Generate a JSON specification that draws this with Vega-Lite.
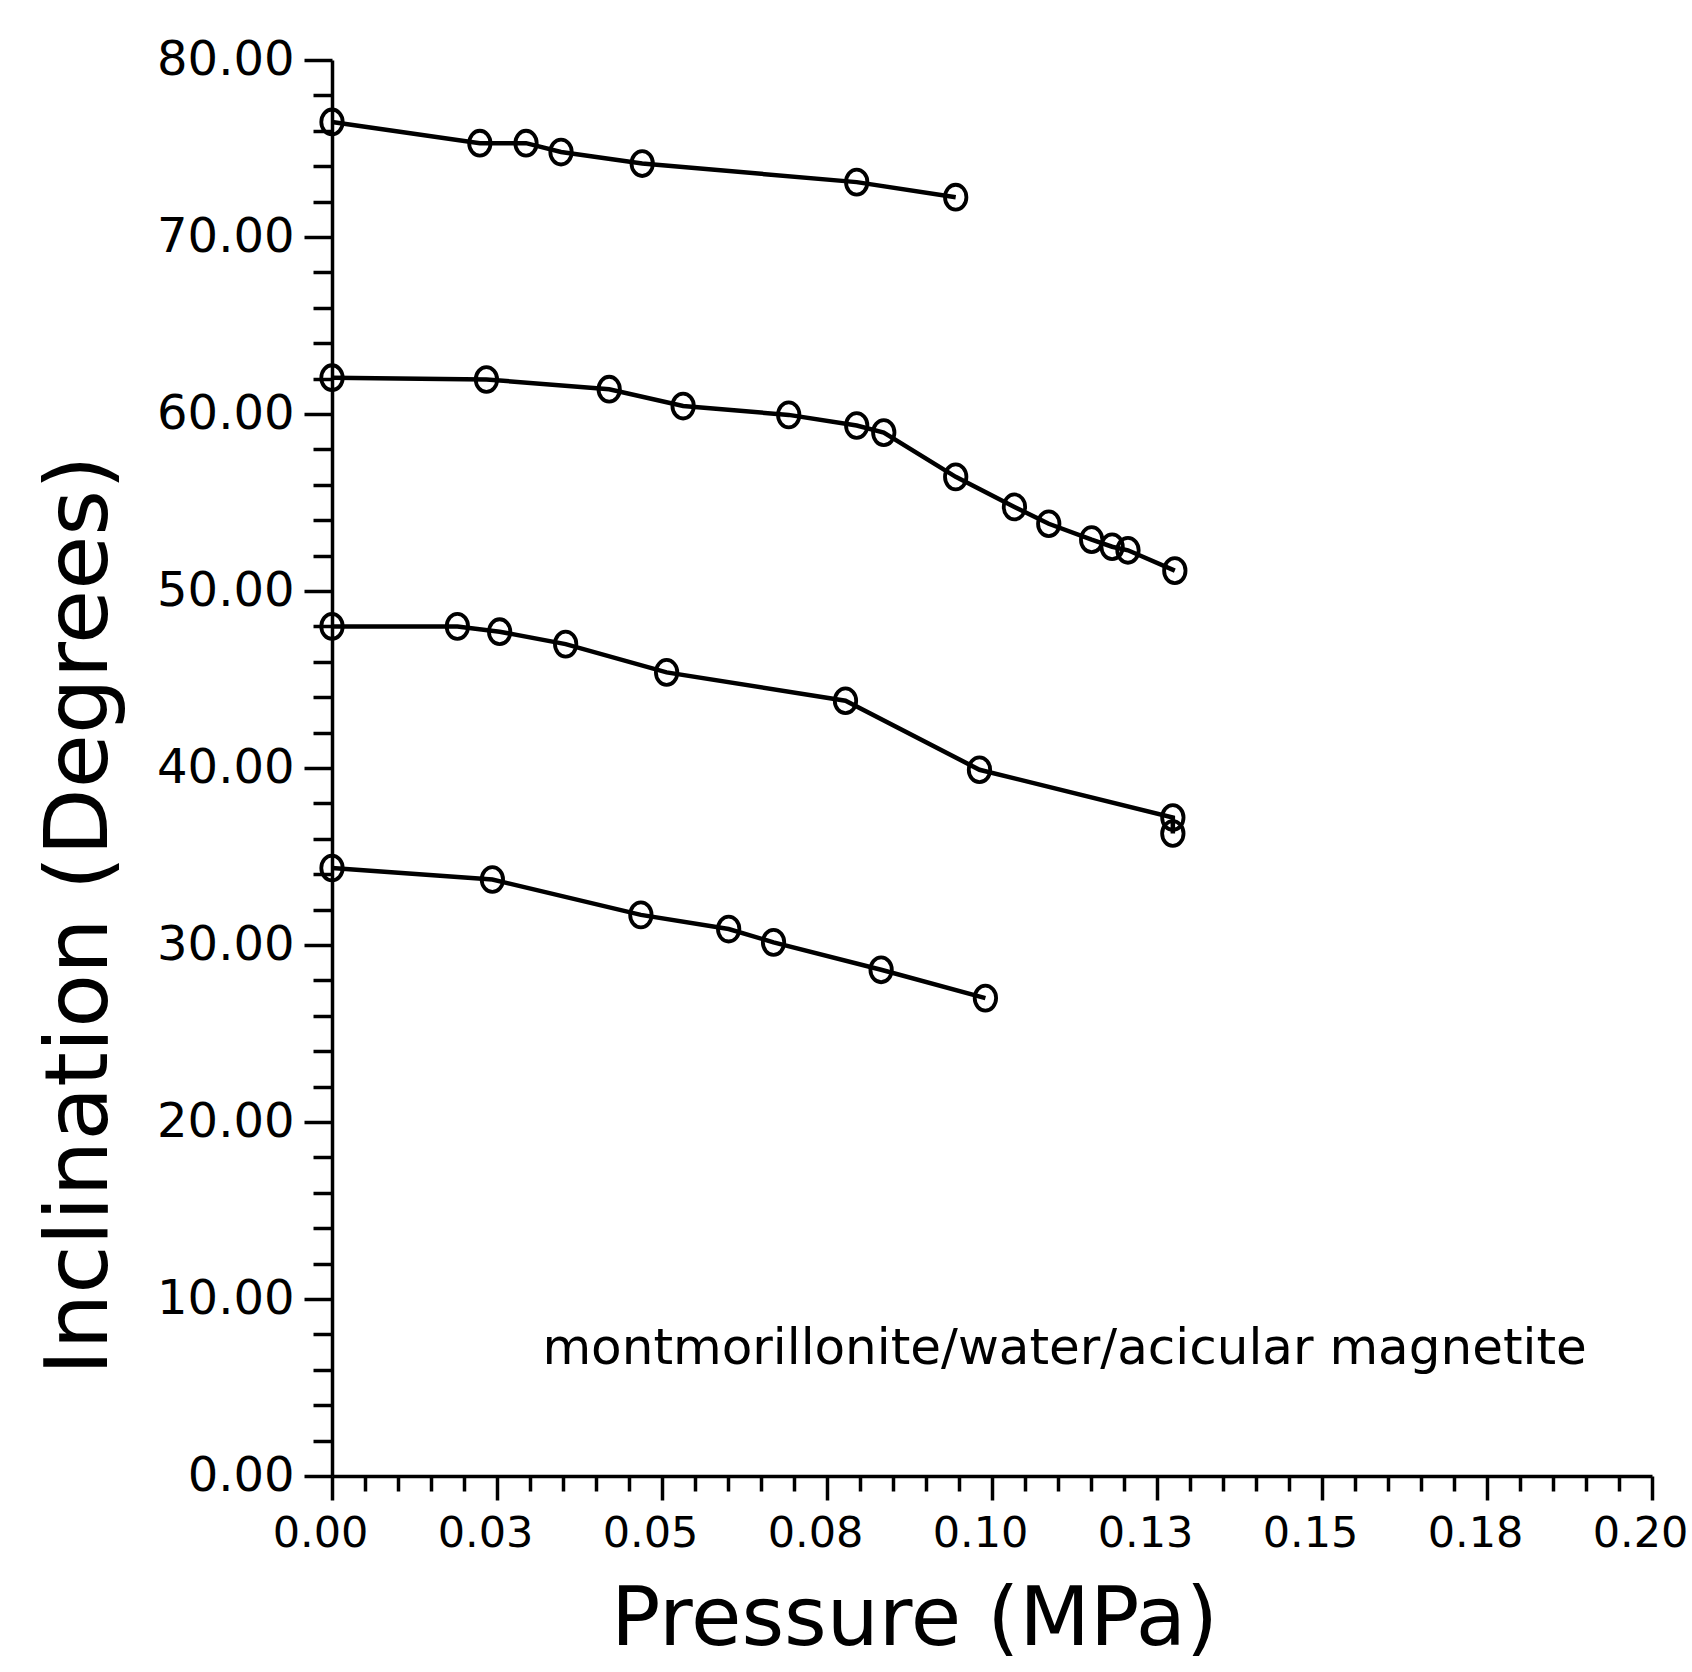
{
  "$schema": "https://vega.github.io/schema/vega-lite/v6.json",
  "width": 1320,
  "height": 1416,
  "autosize": {"type": "none"},
  "padding": {"left": 332, "top": 60, "right": 40, "bottom": 196},
  "background": "white",
  "config": {"view": {"stroke": null}, "font": "DejaVu Sans"},
  "datasets": {
    "curves": [
      {"series": "A", "order": 1, "pressure": 0.0, "inclination": 76.5},
      {"series": "A", "order": 2, "pressure": 0.0224, "inclination": 75.3},
      {"series": "A", "order": 3, "pressure": 0.0294, "inclination": 75.3},
      {"series": "A", "order": 4, "pressure": 0.0347, "inclination": 74.8},
      {"series": "A", "order": 5, "pressure": 0.047, "inclination": 74.15},
      {"series": "A", "order": 6, "pressure": 0.0795, "inclination": 73.1},
      {"series": "A", "order": 7, "pressure": 0.0945, "inclination": 72.25},
      {"series": "B", "order": 1, "pressure": 0.0, "inclination": 62.05},
      {"series": "B", "order": 2, "pressure": 0.0234, "inclination": 61.95},
      {"series": "B", "order": 3, "pressure": 0.042, "inclination": 61.4},
      {"series": "B", "order": 4, "pressure": 0.0532, "inclination": 60.45},
      {"series": "B", "order": 5, "pressure": 0.0692, "inclination": 59.95},
      {"series": "B", "order": 6, "pressure": 0.0795, "inclination": 59.35},
      {"series": "B", "order": 7, "pressure": 0.0836, "inclination": 58.95},
      {"series": "B", "order": 8, "pressure": 0.0945, "inclination": 56.45},
      {"series": "B", "order": 9, "pressure": 0.1034, "inclination": 54.75},
      {"series": "B", "order": 10, "pressure": 0.1086, "inclination": 53.8},
      {"series": "B", "order": 11, "pressure": 0.1151, "inclination": 52.9},
      {"series": "B", "order": 12, "pressure": 0.1182, "inclination": 52.5},
      {"series": "B", "order": 13, "pressure": 0.1206, "inclination": 52.3},
      {"series": "B", "order": 14, "pressure": 0.1277, "inclination": 51.15},
      {"series": "C", "order": 1, "pressure": 0.0, "inclination": 48.0},
      {"series": "C", "order": 2, "pressure": 0.019, "inclination": 48.0},
      {"series": "C", "order": 3, "pressure": 0.0254, "inclination": 47.7},
      {"series": "C", "order": 4, "pressure": 0.0354, "inclination": 47.0},
      {"series": "C", "order": 5, "pressure": 0.0507, "inclination": 45.4},
      {"series": "C", "order": 6, "pressure": 0.0778, "inclination": 43.8},
      {"series": "C", "order": 7, "pressure": 0.0981, "inclination": 39.9},
      {"series": "C", "order": 8, "pressure": 0.1274, "inclination": 37.2},
      {"series": "C", "order": 9, "pressure": 0.1274, "inclination": 36.3},
      {"series": "D", "order": 1, "pressure": 0.0, "inclination": 34.35},
      {"series": "D", "order": 2, "pressure": 0.0243, "inclination": 33.7},
      {"series": "D", "order": 3, "pressure": 0.0468, "inclination": 31.7},
      {"series": "D", "order": 4, "pressure": 0.0601, "inclination": 30.9},
      {"series": "D", "order": 5, "pressure": 0.0669, "inclination": 30.15},
      {"series": "D", "order": 6, "pressure": 0.0832, "inclination": 28.6},
      {"series": "D", "order": 7, "pressure": 0.099, "inclination": 27.0}
    ],
    "note": [
      {"pressure": 0.111, "inclination": 7.2, "label": "montmorillonite/water/acicular magnetite"}
    ]
  },
  "encoding": {
    "x": {
      "field": "pressure",
      "type": "quantitative",
      "scale": {"domain": [0, 0.2], "nice": false, "zero": false},
      "title": "Pressure (MPa)",
      "axis": {
        "values": [0,0.005,0.01,0.015,0.02,0.025,0.03,0.035,0.04,0.045,0.05,0.055,0.06,0.065,0.07,0.075,0.08,0.085,0.09,0.095,0.1,0.105,0.11,0.115,0.12,0.125,0.13,0.135,0.14,0.145,0.15,0.155,0.16,0.165,0.17,0.175,0.18,0.185,0.19,0.195,0.2],
        "labelExpr": "abs(datum.value/0.025 - round(datum.value/0.025)) < 0.01 ? format(datum.value + 0.000001, '.2f') : ''",
        "tickSize": {"condition": {"test": "abs(datum.value/0.025 - round(datum.value/0.025)) < 0.01", "value": 24}, "value": 15},
        "tickWidth": 3.5,
        "tickColor": "black",
        "domainColor": "black",
        "domainWidth": 3.5,
        "grid": false,
        "labelFont": "DejaVu Sans",
        "labelFontSize": 43,
        "labelColor": "black",
        "labelPadding": 12,
        "labelOffset": -12,
        "labelOverlap": false,
        "labelFlush": false,
        "labelBound": false,
        "titleFont": "DejaVu Sans",
        "titleFontSize": 82,
        "titleFontWeight": "normal",
        "titleColor": "black",
        "titleX": 582,
        "titleY": 168,
        "titleAlign": "center",
        "titleBaseline": "alphabetic"
      }
    },
    "y": {
      "field": "inclination",
      "type": "quantitative",
      "scale": {"domain": [0, 80], "nice": false, "zero": false},
      "title": "Inclination (Degrees)",
      "axis": {
        "values": [0,2,4,6,8,10,12,14,16,18,20,22,24,26,28,30,32,34,36,38,40,42,44,46,48,50,52,54,56,58,60,62,64,66,68,70,72,74,76,78,80],
        "labelExpr": "datum.value % 10 == 0 ? format(datum.value, '.2f') : ''",
        "tickSize": {"condition": {"test": "datum.value % 10 == 0", "value": 28}, "value": 19},
        "tickWidth": 3.5,
        "tickColor": "black",
        "domainColor": "black",
        "domainWidth": 3.5,
        "grid": false,
        "labelFont": "DejaVu Sans",
        "labelFontSize": 48,
        "labelColor": "black",
        "labelPadding": 10,
        "labelOverlap": false,
        "labelFlush": false,
        "labelBound": false,
        "titleFont": "DejaVu Sans",
        "titleFontSize": 88,
        "titleFontWeight": "normal",
        "titleColor": "black",
        "titleAngle": -90,
        "titleX": -226,
        "titleY": 855,
        "titleAlign": "center",
        "titleBaseline": "alphabetic"
      }
    }
  },
  "layer": [
    {
      "data": {"name": "curves"},
      "mark": {"type": "line", "color": "black", "strokeWidth": 4.5},
      "encoding": {
        "detail": {"field": "series", "type": "nominal"},
        "order": {"field": "order", "type": "quantitative"}
      }
    },
    {
      "data": {"name": "curves"},
      "mark": {
        "type": "point",
        "shape": "M-0.86,0A0.86,1,0,1,1,0.86,0A0.86,1,0,1,1,-0.86,0Z",
        "size": 620,
        "filled": false,
        "stroke": "black",
        "strokeWidth": 3.8,
        "opacity": 1
      }
    },
    {
      "data": {"name": "note"},
      "mark": {"type": "text", "font": "DejaVu Sans", "fontSize": 50, "align": "center", "baseline": "middle", "color": "black"},
      "encoding": {"text": {"field": "label", "type": "nominal"}}
    }
  ]
}
